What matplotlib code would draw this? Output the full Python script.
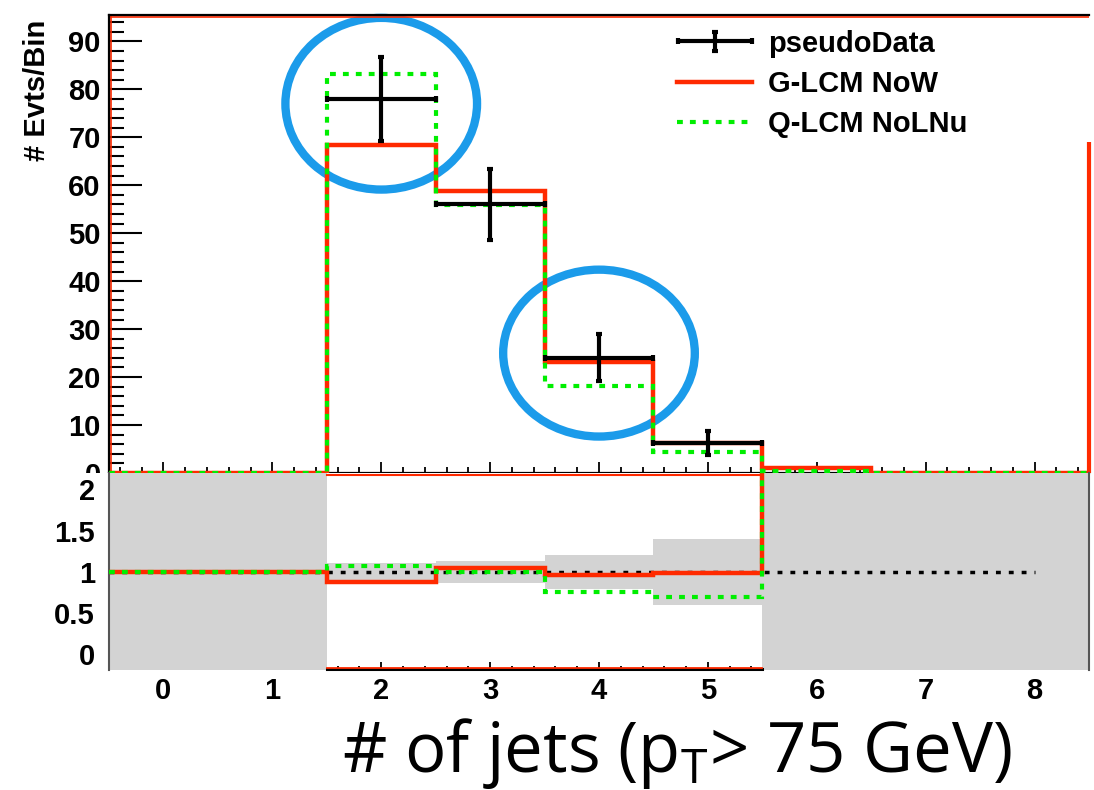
import numpy as np
import matplotlib.pyplot as plt
from matplotlib.patches import Ellipse, Rectangle
from matplotlib.ticker import MultipleLocator, FormatStrFormatter
from matplotlib.legend_handler import HandlerErrorbar
from matplotlib.container import ErrorbarContainer

plt.rcParams['font.family'] = ['Liberation Sans', 'DejaVu Sans']
plt.rcParams['font.weight'] = 'bold'
plt.rcParams['mathtext.fontset'] = 'custom'
plt.rcParams['mathtext.rm'] = 'Open Sans:weight=normal'

# jet multiplicity bins 0..8
edges = np.arange(-0.5, 9.0, 1.0)
centers = np.arange(0, 9)

# events per bin
pseudo_data = np.array([0, 0, 78, 56, 24, 6.3, 0, 0, 0])
g_lcm_now = np.array([0, 0, 68.3, 58.7, 23.2, 6.2, 1.1, 0, 0])
q_lcm_nolnu = np.array([0, 0, 83.2, 55.8, 18.1, 4.4, 0.5, 0, 0])
g_lcm_overflow = 69.0

# bins picked out by hand with rings
highlight_bins = [2, 4]
highlight_y = [77, 25]

RED = '#ff2a00'
GREEN = '#00ee00'
BLUE = '#1b9bea'
GREY = '#d3d3d3'

data_err = np.sqrt(pseudo_data)
filled = pseudo_data > 0
last_filled = centers[filled].max()


def ratio_to_data(mc):
    r = np.ones_like(mc, dtype=float)
    r[filled] = mc[filled] / pseudo_data[filled]
    r[centers > last_filled] = 1e3  # no data: off scale
    return r


fig = plt.figure(figsize=(10.94, 7.9), dpi=100)
W, H = 1094.0, 790.0
x0, x1 = 109 / W, 1089 / W
ax1 = fig.add_axes([x0, 1 - 473 / H, x1 - x0, (473 - 15) / H])
ax2 = fig.add_axes([x0, 1 - 670 / H, x1 - x0, (670 - 473) / H])

# ---- upper pad: distributions ----
ring_w = [1.76, 1.76]
ring_h = [35.8, 34.8]
for b, y, w, h in zip(highlight_bins, highlight_y, ring_w, ring_h):
    ax1.add_patch(Ellipse((b, y), w, h, fill=False, edgecolor=BLUE, lw=6,
                          clip_on=False, zorder=2))

ax1.stairs(g_lcm_now, edges, baseline=None, color=RED, lw=3.2, zorder=3,
           clip_on=False, label='G-LCM NoW')
ax1.vlines(edges[-1], 0, g_lcm_overflow, color=RED, lw=3, zorder=3, clip_on=False)
ax1.stairs(q_lcm_nolnu, edges, baseline=None, color=GREEN, lw=3,
           linestyle=(0, (1.4, 1.7)), zorder=3.1, clip_on=False,
           label='Q-LCM NoLNu')
eb = ax1.errorbar(centers[filled], pseudo_data[filled], xerr=0.5,
                  yerr=data_err[filled], fmt='none', ecolor='black',
                  elinewidth=3, capsize=2, capthick=3, zorder=4,
                  label='pseudoData')

ax1.set_xlim(edges[0], edges[-1])
ax1.set_ylim(0, 95.5)
ax1.xaxis.set_major_locator(MultipleLocator(1))
ax1.xaxis.set_minor_locator(MultipleLocator(0.2))
ax1.yaxis.set_major_locator(MultipleLocator(10))
ax1.yaxis.set_minor_locator(MultipleLocator(2))
ax1.tick_params(which='both', direction='in', top=False, right=False,
                labelbottom=False)
ax1.tick_params(axis='y', which='major', length=24, width=1.5,
                labelsize=21, pad=6)
ax1.tick_params(axis='y', which='minor', length=11, width=1.5)
ax1.tick_params(axis='x', which='major', length=8, width=1.3)
ax1.tick_params(axis='x', which='minor', length=4, width=1.3)
ax1.spines['right'].set_visible(False)
for s in ('top', 'left', 'bottom'):
    ax1.spines[s].set_linewidth(1.6)
# thin red frame inside the pad
ax1.plot([0, 1], [0.996, 0.996], transform=ax1.transAxes, color=RED, lw=1.2)
ax1.plot([0.002, 0.002], [0, 1], transform=ax1.transAxes, color=RED, lw=1.2)

handles, labels = ax1.get_legend_handles_labels()
order = [labels.index(n) for n in ('pseudoData', 'G-LCM NoW', 'Q-LCM NoLNu')]
ax1.legend([handles[i] for i in order], [labels[i] for i in order],
           loc='upper left', bbox_to_anchor=(0.58, 0.968), frameon=False,
           fontsize=21, handlelength=2.55, handletextpad=0.55,
           labelspacing=0.42, borderpad=0, borderaxespad=0,
           handler_map={ErrorbarContainer: HandlerErrorbar(xerr_size=1.27,
                                                           yerr_size=0.34)})

fig.text(37 / W, 1 - 20 / H, '# Evts/Bin', rotation=90, ha='center', va='top',
         fontsize=21, fontweight='bold')

# ---- lower pad: ratio to pseudo data ----
band_lo = np.full(9, -1.0)
band_hi = np.full(9, 3.0)
band_lo[filled] = 1 - data_err[filled] / pseudo_data[filled]
band_hi[filled] = 1 + data_err[filled] / pseudo_data[filled]
ax2.bar(centers, band_hi - band_lo, bottom=band_lo, width=1.0, color=GREY,
        linewidth=0, zorder=1)
ax2.hlines(1, edges[0], centers[-1], color='black', lw=2.5,
           linestyle=(0, (1.4, 2.3)), zorder=2)
ax2.stairs(ratio_to_data(g_lcm_now), edges, baseline=None, color=RED, lw=3.2,
           zorder=3)
ax2.stairs(ratio_to_data(q_lcm_nolnu), edges, baseline=None, color=GREEN,
           lw=3, linestyle=(0, (1.4, 1.7)), zorder=3.1)

# frame edges over the bins that hold data
xa, xb = edges[centers[filled].min()], edges[last_filled + 1]
tr = ax2.get_xaxis_transform()
ax2.plot([xa, xb], [0.004, 0.004], transform=tr, color='black', lw=2.2,
         zorder=4, clip_on=False)
ax2.plot([xa, xb], [0.012, 0.012], transform=tr, color=RED, lw=1.3,
         zorder=4, clip_on=False)
ax2.plot([xa, xb], [0.992, 0.992], transform=tr, color=RED, lw=1.5,
         zorder=4, clip_on=False)

ax2.set_xlim(edges[0], edges[-1])
ax2.set_ylim(-0.19, 2.2)
ax2.set_yticks([0, 0.5, 1, 1.5, 2])
ax2.yaxis.set_major_formatter(FormatStrFormatter('%g'))
ax2.xaxis.set_major_locator(MultipleLocator(1))
ax2.xaxis.set_minor_locator(MultipleLocator(0.2))
ax2.set_axisbelow(True)
ax2.tick_params(which='both', direction='in', top=False, right=False,
                labelsize=21)
ax2.tick_params(axis='y', length=0, pad=10)
ax2.tick_params(axis='x', which='major', length=6, width=1.3, pad=5)
ax2.tick_params(axis='x', which='minor', length=3, width=1.3)
ax2.spines['top'].set_visible(False)
ax2.spines['bottom'].set_visible(False)
for s in ('left', 'right'):
    ax2.spines[s].set_color('#555555')
    ax2.spines[s].set_linewidth(1.5)
# lower pad hides the foot of the upper pad's labels
ax2.add_patch(Rectangle((0, 0), x0 - 0.001, 1 - 473 / H, transform=fig.transFigure,
                        facecolor='white', edgecolor='none', zorder=0,
                        clip_on=False))

fig.text(677 / W, 1 - 772 / H, r'# of jets (p$_\mathrm{T}$> 75 GeV)',
         ha='center', va='baseline', fontsize=49.5, fontfamily='Open Sans',
         fontweight='normal')

fig.savefig('out.png', dpi=100)
